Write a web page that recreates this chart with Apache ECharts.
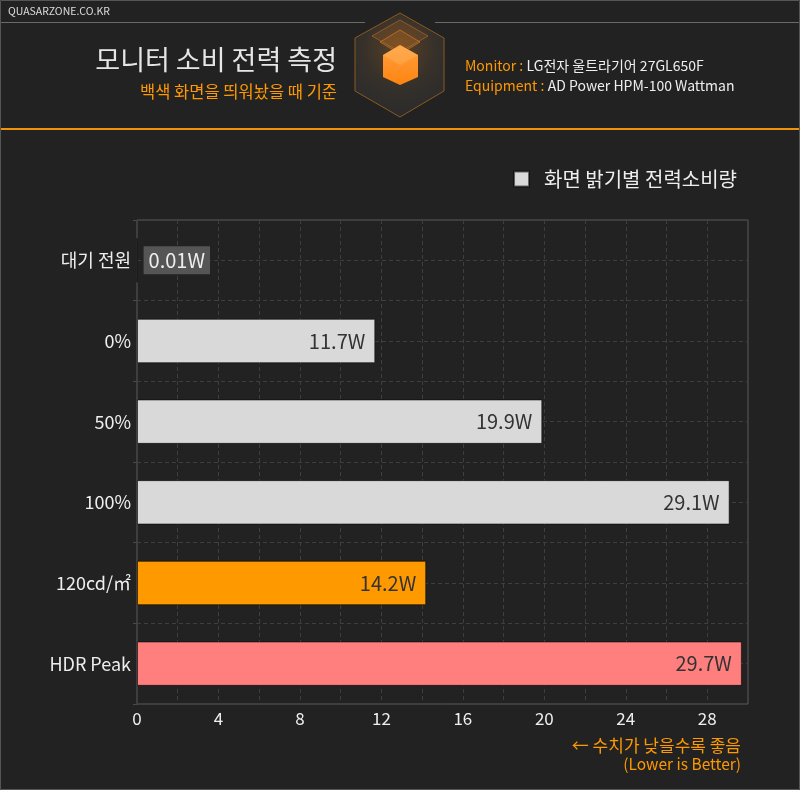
<!DOCTYPE html>
<html><head><meta charset="utf-8">
<style>html,body{margin:0;padding:0;background:#222;}#c{width:800px;height:790px;}</style>
<script src="https://cdn.jsdelivr.net/npm/echarts@6/dist/echarts.min.js"></script>
</head><body><div id="c"></div>
<script>
const categories = ['대기 전원', '0%', '50%', '100%', '120cd/㎡', 'HDR Peak'];
const values = [0.01, 11.7, 19.9, 29.1, 14.2, 29.7];
const barColors = ['#d9d9d9', '#d9d9d9', '#d9d9d9', '#d9d9d9', '#ff9900', '#ff7f7f'];
const xTicks = [0, 4, 8, 12, 16, 20, 24, 28];
const legendName = '화면 밝기별 전력소비량';

const F = '"Noto Sans CJK KR", "Noto Sans", sans-serif';
const chart = echarts.init(document.getElementById('c'), null, {renderer: 'canvas'});

const data = values.map((v, i) => {
  const item = {value: v, itemStyle: {color: barColors[i]}};
  if (i === 0) {
    item.label = {position: 'right', distance: 6, color: '#eeeeee', backgroundColor: '#555555', padding: [4, 5, 4, 5]};
  }
  return item;
});

chart.setOption({
  backgroundColor: '#222222',
  animation: false,
  grid: {left: 137, right: 52, top: 220, bottom: 86, show: true, borderColor: '#5a5a5a', borderWidth: 1, containLabel: false},
  legend: {
    show: true, right: 58, top: 164, itemWidth: 15, itemHeight: 15, icon: 'rect', itemGap: 10,
    textStyle: {color: '#eeeeee', fontSize: 20, fontFamily: F, padding: [0, 0, 0, 10]},
    data: [{name: legendName, itemStyle: {color: '#d9d9d9'}}]
  },
  xAxis: {
    type: 'value', min: 0, max: 30, interval: 2,
    axisLine: {show: false}, axisTick: {show: false},
    axisLabel: {color: '#eeeeee', fontSize: 17, fontFamily: F, margin: 6,
      formatter: v => (xTicks.indexOf(v) >= 0 ? String(v) : '')},
    splitLine: {show: true, lineStyle: {color: '#3e3e3e', type: [4, 3], width: 1}}
  },
  yAxis: [{
    type: 'category', data: categories, inverse: true,
    axisLine: {show: false},
    axisTick: {show: true, length: 4, lineStyle: {color: '#4a4a4a'}},
    axisLabel: {color: '#eeeeee', fontSize: 18, fontFamily: F, margin: 6},
    splitLine: {show: false}
  }, {
    type: 'value', min: 0, max: 12, interval: 1, position: 'left',
    axisLine: {show: false}, axisTick: {show: false}, axisLabel: {show: false},
    splitLine: {show: true, lineStyle: {color: '#3e3e3e', type: [4, 3], width: 1}}
  }],
  series: [{
    name: legendName, type: 'bar', yAxisIndex: 0, data: data, barWidth: '55%',
    itemStyle: {borderColor: 'rgba(0,0,0,0.55)', borderWidth: 1},
    label: {show: true, position: 'insideRight', distance: 10, color: '#333333', fontSize: 20, fontFamily: F,
      formatter: p => p.value + 'W'}
  }],
  graphic: [
    {type: 'rect', shape: {x: 0.5, y: 0.5, width: 799, height: 789}, style: {fill: 'none', stroke: '#555', lineWidth: 1}, z: 100},
    {type: 'text', left: 8, top: 6, style: {text: 'QUASARZONE.CO.KR', fill: '#dddddd', font: '10.5px ' + F}},
    {type: 'line', shape: {x1: 0, y1: 22.5, x2: 365, y2: 22.5}, style: {stroke: '#6a6a6a', lineWidth: 1}},
    {type: 'line', shape: {x1: 435, y1: 22.5, x2: 800, y2: 22.5}, style: {stroke: '#6a6a6a', lineWidth: 1}},
    {type: 'rect', shape: {x: 0, y: 128, width: 800, height: 2}, style: {fill: '#f0920c'}},
    // logo hexagon
    {type: 'polygon', shape: {points: [[400, 13], [444, 38], [444, 91], [400, 117], [355, 91], [355, 38]]},
      style: {fill: new echarts.graphic.RadialGradient(0.5, 0.35, 0.7, [{offset: 0, color: '#5a4026'}, {offset: 0.6, color: '#35302a'}, {offset: 1, color: '#2c2c2c'}]), stroke: '#8a5a1e', lineWidth: 1}},
    {type: 'polygon', shape: {points: [[400, 20], [428, 36], [400, 52], [372, 36]]},
      style: {fill: 'rgba(255,140,30,0.12)', stroke: 'rgba(255,150,50,0.35)', lineWidth: 1}},
    {type: 'polygon', shape: {points: [[400, 30], [420, 42], [400, 54], [380, 42]]},
      style: {fill: 'rgba(255,140,30,0.15)', stroke: 'rgba(255,150,50,0.45)', lineWidth: 1}},
    {type: 'polygon', shape: {points: [[400, 45], [418, 55], [418, 77], [400, 85], [383, 77], [383, 55]]},
      style: {fill: new echarts.graphic.LinearGradient(0, 0, 0, 1, [{offset: 0, color: '#ffa040'}, {offset: 1, color: '#ff8410'}])}},
    {type: 'polygon', shape: {points: [[400, 45], [418, 55], [400, 65], [383, 55]]},
      style: {fill: 'rgba(255,190,110,0.35)'}},
    // titles
    {type: 'text', x: 337, y: 60, style: {text: '모니터 소비 전력 측정', fill: '#e6e6e6', font: '27px ' + F, textAlign: 'right', textVerticalAlign: 'middle'}},
    {type: 'text', x: 337, y: 92, style: {text: '백색 화면을 띄워놨을 때 기준', fill: '#ff9900', font: '16.5px ' + F, textAlign: 'right', textVerticalAlign: 'middle'}},
    {type: 'text', x: 465, y: 66, style: {rich: {o: {fill: '#ff9900', font: '14px ' + F}, w: {fill: '#eeeeee', font: '14px ' + F}},
      text: '{o|Monitor :} {w|LG전자 울트라기어 27GL650F}', textVerticalAlign: 'middle'}},
    {type: 'text', x: 465, y: 86, style: {rich: {o: {fill: '#ff9900', font: '14px ' + F}, w: {fill: '#eeeeee', font: '14px ' + F}},
      text: '{o|Equipment :} {w|AD Power HPM-100 Wattman}', textVerticalAlign: 'middle'}},
    // footer note
    {type: 'text', x: 741, y: 746, style: {text: '← 수치가 낮을수록 좋음', fill: '#ff9900', font: '17px ' + F, textAlign: 'right', textVerticalAlign: 'middle'}},
    {type: 'text', x: 741, y: 764, style: {text: '(Lower is Better)', fill: '#ff9900', font: '15.5px ' + F, textAlign: 'right', textVerticalAlign: 'middle'}}
  ]
});
</script></body></html>
